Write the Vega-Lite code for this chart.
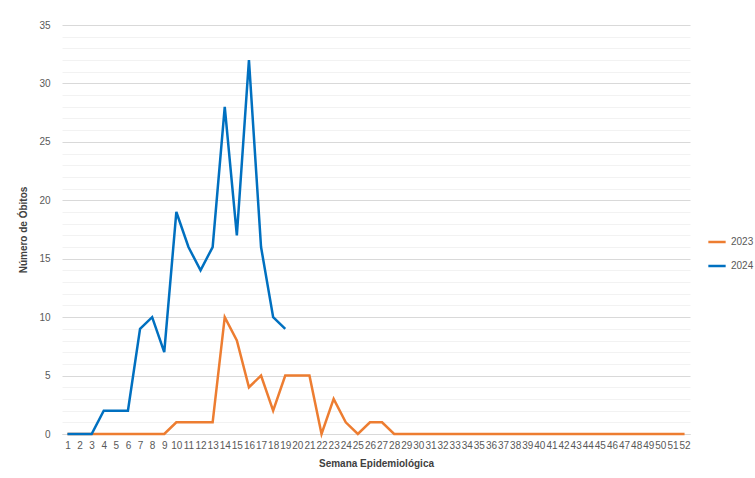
{
  "$schema": "https://vega.github.io/schema/vega-lite/v6.json",
  "width": 628,
  "height": 409,
  "autosize": "none",
  "padding": {"left": 62, "top": 25, "right": 65, "bottom": 44},
  "background": "white",
  "data": {"values": [
    {"week": 1, "year": "2023", "obitos": 0}, {"week": 2, "year": "2023", "obitos": 0}, {"week": 3, "year": "2023", "obitos": 0},
    {"week": 4, "year": "2023", "obitos": 0}, {"week": 5, "year": "2023", "obitos": 0}, {"week": 6, "year": "2023", "obitos": 0},
    {"week": 7, "year": "2023", "obitos": 0}, {"week": 8, "year": "2023", "obitos": 0}, {"week": 9, "year": "2023", "obitos": 0},
    {"week": 10, "year": "2023", "obitos": 1}, {"week": 11, "year": "2023", "obitos": 1}, {"week": 12, "year": "2023", "obitos": 1},
    {"week": 13, "year": "2023", "obitos": 1}, {"week": 14, "year": "2023", "obitos": 10}, {"week": 15, "year": "2023", "obitos": 8},
    {"week": 16, "year": "2023", "obitos": 4}, {"week": 17, "year": "2023", "obitos": 5}, {"week": 18, "year": "2023", "obitos": 2},
    {"week": 19, "year": "2023", "obitos": 5}, {"week": 20, "year": "2023", "obitos": 5}, {"week": 21, "year": "2023", "obitos": 5},
    {"week": 22, "year": "2023", "obitos": 0}, {"week": 23, "year": "2023", "obitos": 3}, {"week": 24, "year": "2023", "obitos": 1},
    {"week": 25, "year": "2023", "obitos": 0}, {"week": 26, "year": "2023", "obitos": 1}, {"week": 27, "year": "2023", "obitos": 1},
    {"week": 28, "year": "2023", "obitos": 0}, {"week": 29, "year": "2023", "obitos": 0}, {"week": 30, "year": "2023", "obitos": 0},
    {"week": 31, "year": "2023", "obitos": 0}, {"week": 32, "year": "2023", "obitos": 0}, {"week": 33, "year": "2023", "obitos": 0},
    {"week": 34, "year": "2023", "obitos": 0}, {"week": 35, "year": "2023", "obitos": 0}, {"week": 36, "year": "2023", "obitos": 0},
    {"week": 37, "year": "2023", "obitos": 0}, {"week": 38, "year": "2023", "obitos": 0}, {"week": 39, "year": "2023", "obitos": 0},
    {"week": 40, "year": "2023", "obitos": 0}, {"week": 41, "year": "2023", "obitos": 0}, {"week": 42, "year": "2023", "obitos": 0},
    {"week": 43, "year": "2023", "obitos": 0}, {"week": 44, "year": "2023", "obitos": 0}, {"week": 45, "year": "2023", "obitos": 0},
    {"week": 46, "year": "2023", "obitos": 0}, {"week": 47, "year": "2023", "obitos": 0}, {"week": 48, "year": "2023", "obitos": 0},
    {"week": 49, "year": "2023", "obitos": 0}, {"week": 50, "year": "2023", "obitos": 0}, {"week": 51, "year": "2023", "obitos": 0},
    {"week": 52, "year": "2023", "obitos": 0},
    {"week": 1, "year": "2024", "obitos": 0}, {"week": 2, "year": "2024", "obitos": 0}, {"week": 3, "year": "2024", "obitos": 0},
    {"week": 4, "year": "2024", "obitos": 2}, {"week": 5, "year": "2024", "obitos": 2}, {"week": 6, "year": "2024", "obitos": 2},
    {"week": 7, "year": "2024", "obitos": 9}, {"week": 8, "year": "2024", "obitos": 10}, {"week": 9, "year": "2024", "obitos": 7},
    {"week": 10, "year": "2024", "obitos": 19}, {"week": 11, "year": "2024", "obitos": 16}, {"week": 12, "year": "2024", "obitos": 14},
    {"week": 13, "year": "2024", "obitos": 16}, {"week": 14, "year": "2024", "obitos": 28}, {"week": 15, "year": "2024", "obitos": 17},
    {"week": 16, "year": "2024", "obitos": 32}, {"week": 17, "year": "2024", "obitos": 16}, {"week": 18, "year": "2024", "obitos": 10},
    {"week": 19, "year": "2024", "obitos": 9}
  ]},
  "mark": {"type": "line", "strokeWidth": 2.5},
  "encoding": {
    "x": {
      "field": "week", "type": "ordinal",
      "title": "Semana Epidemiológica",
      "scale": {"type": "point", "padding": 0.45},
      "axis": {"labelAngle": 0, "labelFontSize": 10, "labelColor": "#595959", "labelPadding": 6,
               "ticks": false, "domainColor": "#d9d9d9", "grid": false,
               "titleFontSize": 10, "titleColor": "#404040", "titlePadding": 8}
    },
    "y": {
      "field": "obitos", "type": "quantitative",
      "title": "Número de Óbitos",
      "scale": {"domain": [0, 35]},
      "axis": {"values": [0,1,2,3,4,5,6,7,8,9,10,11,12,13,14,15,16,17,18,19,20,21,22,23,24,25,26,27,28,29,30,31,32,33,34,35],
               "labelExpr": "datum.value % 5 === 0 ? datum.label : ''",
               "gridColor": {"condition": {"test": "datum.value % 5 === 0", "value": "#d9d9d9"}, "value": "#f2f2f2"},
               "domain": false, "ticks": false, "labelFontSize": 10, "labelColor": "#595959", "labelPadding": 12,
               "titleFontSize": 10, "titleColor": "#404040", "titlePadding": 10}
    },
    "color": {
      "field": "year", "type": "nominal",
      "scale": {"domain": ["2023", "2024"], "range": ["#ED7D31", "#0070C0"]},
      "legend": {"title": null, "orient": "none", "legendX": 645, "legendY": 207,
                 "symbolType": "stroke", "symbolStrokeWidth": 2.5, "symbolSize": 300,
                 "labelFontSize": 10, "labelColor": "#595959", "rowPadding": 9}
    }
  },
  "config": {"view": {"stroke": null}, "font": "Liberation Sans"}
}
